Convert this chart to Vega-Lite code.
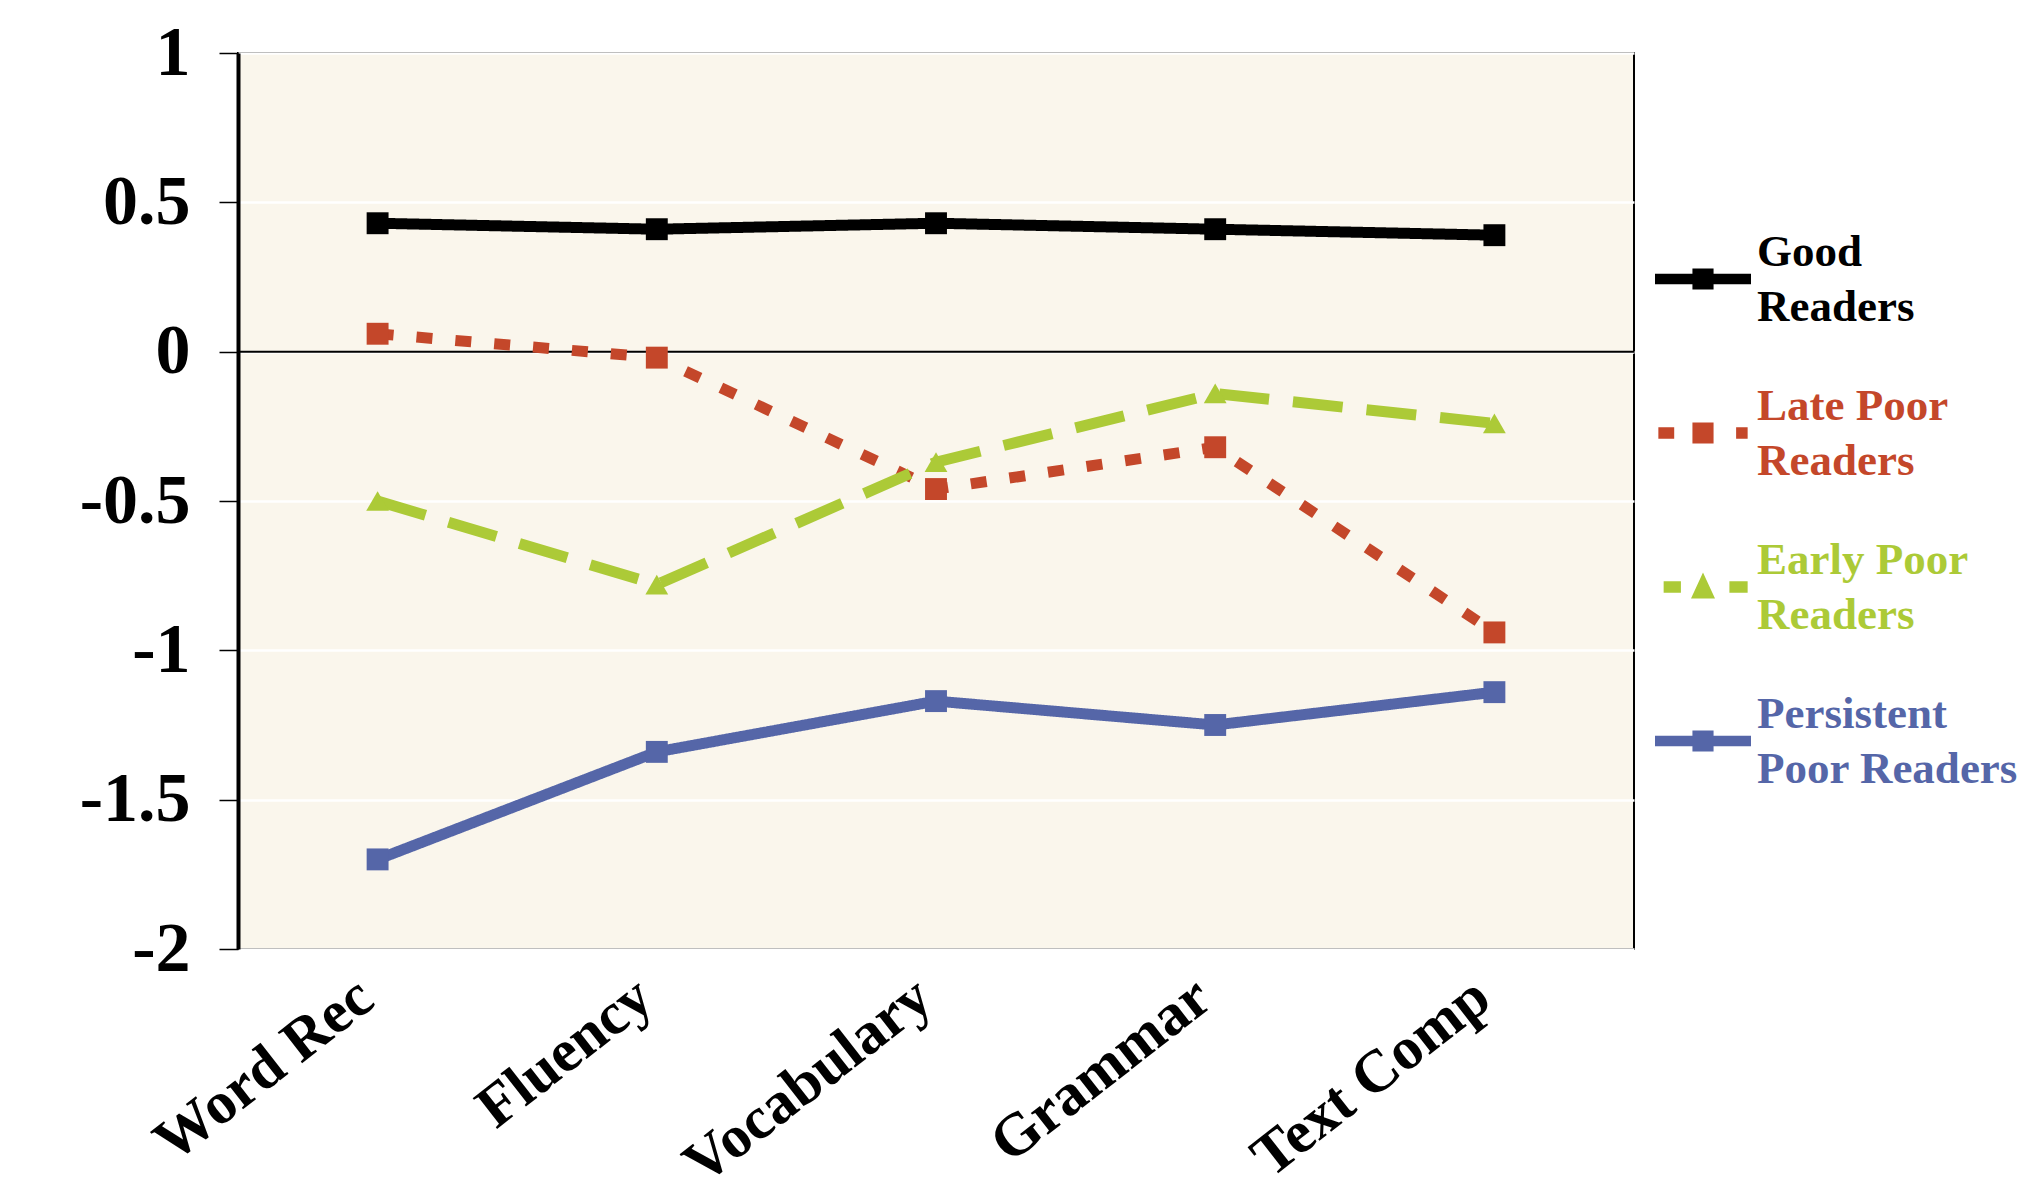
{
  "$schema": "https://vega.github.io/schema/vega-lite/v6.json",
  "autosize": {"type": "none"},
  "padding": {"left": 238, "top": 53, "right": 397, "bottom": 230},
  "width": 1396,
  "height": 896,
  "background": "white",
  "config": {
    "view": {"fill": "#FAF6EC", "stroke": "black", "strokeWidth": 2},
    "font": "Liberation Serif"
  },
  "data": {
    "values": [
      {"group": "Good Readers", "measure": "Word Rec", "value": 0.43},
      {"group": "Good Readers", "measure": "Fluency", "value": 0.41},
      {"group": "Good Readers", "measure": "Vocabulary", "value": 0.43},
      {"group": "Good Readers", "measure": "Grammar", "value": 0.41},
      {"group": "Good Readers", "measure": "Text Comp", "value": 0.39},
      {"group": "Late Poor Readers", "measure": "Word Rec", "value": 0.06},
      {"group": "Late Poor Readers", "measure": "Fluency", "value": -0.02},
      {"group": "Late Poor Readers", "measure": "Vocabulary", "value": -0.46},
      {"group": "Late Poor Readers", "measure": "Grammar", "value": -0.32},
      {"group": "Late Poor Readers", "measure": "Text Comp", "value": -0.94},
      {"group": "Early Poor Readers", "measure": "Word Rec", "value": -0.50},
      {"group": "Early Poor Readers", "measure": "Fluency", "value": -0.78},
      {"group": "Early Poor Readers", "measure": "Vocabulary", "value": -0.37},
      {"group": "Early Poor Readers", "measure": "Grammar", "value": -0.14},
      {"group": "Early Poor Readers", "measure": "Text Comp", "value": -0.24},
      {"group": "Persistent Poor Readers", "measure": "Word Rec", "value": -1.70},
      {"group": "Persistent Poor Readers", "measure": "Fluency", "value": -1.34},
      {"group": "Persistent Poor Readers", "measure": "Vocabulary", "value": -1.17},
      {"group": "Persistent Poor Readers", "measure": "Grammar", "value": -1.25},
      {"group": "Persistent Poor Readers", "measure": "Text Comp", "value": -1.14}
    ]
  },
  "layer": [
    {
      "data": {"values": [{}]},
      "mark": {"type": "rule", "color": "black", "strokeWidth": 2},
      "encoding": {"y": {"datum": 0, "type": "quantitative"}}
    },
    {
      "mark": {"type": "line", "strokeWidth": 11, "strokeCap": "butt", "strokeJoin": "miter"},
      "encoding": {
        "x": {
          "field": "measure", "type": "nominal",
          "sort": ["Word Rec", "Fluency", "Vocabulary", "Grammar", "Text Comp"],
          "scale": {"type": "point", "padding": 0.5},
          "axis": {
            "title": null, "ticks": false, "tickSize": 0, "domain": false, "grid": false,
            "labelAngle": -38, "labelAlign": "right", "labelBaseline": "top",
            "labelPadding": 18, "labelOffset": -30, "labelFont": "Liberation Serif", "labelFontWeight": "bold",
            "labelFontSize": 60, "labelColor": "black", "labelLimit": 1000
          }
        },
        "y": {
          "field": "value", "type": "quantitative",
          "scale": {"domain": [-2, 1], "nice": false, "zero": false},
          "axis": {
            "title": null, "values": [-2, -1.5, -1, -0.5, 0, 0.5, 1],
            "labelExpr": "'' + datum.value",
            "labelFont": "Liberation Serif", "labelFontWeight": "bold", "labelFontSize": 70,
            "labelColor": "black", "labelPadding": 29,
            "tickSize": 19, "tickColor": "black", "tickWidth": 1.5,
            "domainColor": "black", "domainWidth": 4,
            "grid": true, "gridColor": "white", "gridWidth": 2.5
          }
        },
        "color": {
          "field": "group", "type": "nominal",
          "scale": {
            "domain": ["Good Readers", "Late Poor Readers", "Early Poor Readers", "Persistent Poor Readers"],
            "range": ["#000000", "#C4472A", "#ACCA37", "#5566A8"]
          },
          "legend": {
            "orient": "none", "legendX": 1417, "legendY": 178, "title": null, "padding": 0,
            "symbolSize": 9216, "labelFont": "Liberation Serif", "labelFontWeight": "bold",
            "labelFontSize": 45, "labelOffset": 6, "labelLimit": 600, "rowPadding": 54,
            "labelExpr": "datum.label == 'Good Readers' ? ['Good', 'Readers'] : datum.label == 'Late Poor Readers' ? ['Late Poor', 'Readers'] : datum.label == 'Early Poor Readers' ? ['Early Poor', 'Readers'] : ['Persistent', 'Poor Readers']",
            "encode": {
              "symbols": {
                "update": {
                  "shape": {"signal": "datum.value == 'Early Poor Readers' ? 'M-0.82,-0.12H-0.46V0.12H-0.82ZM0,-0.3L0.25,0.24H-0.25ZM0.55,-0.12H0.93V0.12H0.55Z' : datum.value == 'Late Poor Readers' ? 'M-0.93,-0.12H-0.6V0.12H-0.93ZM-0.22,-0.22H0.22V0.22H-0.22ZM0.69,-0.12H0.93V0.12H0.69Z' : 'M-1,-0.11H1V0.11H-1ZM-0.22,-0.22H0.22V0.22H-0.22Z'"},
                  "fill": {"signal": "scale('color', datum.value)"},
                  "stroke": {"value": "transparent"},
                  "strokeWidth": {"value": 0},
                  "strokeDash": {"value": []},
                  "opacity": {"value": 1}
                }
              },
              "labels": {
                "update": {
                  "fill": {"signal": "scale('color', datum.value)"},
                  "lineHeight": {"value": 55},
                  "dy": {"value": -27}
                }
              }
            }
          }
        },
        "strokeDash": {
          "field": "group", "type": "nominal",
          "scale": {
            "domain": ["Good Readers", "Late Poor Readers", "Early Poor Readers", "Persistent Poor Readers"],
            "range": [[1, 0], [16, 23], [50, 24], [1, 0]]
          },
          "legend": null
        }
      }
    },
    {
      "transform": [{"filter": "datum.group != 'Early Poor Readers'"}],
      "mark": {"type": "point", "filled": true, "opacity": 1, "size": 480, "shape": "square", "strokeWidth": 0},
      "encoding": {
        "x": {"field": "measure", "type": "nominal", "sort": ["Word Rec", "Fluency", "Vocabulary", "Grammar", "Text Comp"]},
        "y": {"field": "value", "type": "quantitative"},
        "fill": {
          "field": "group", "type": "nominal",
          "scale": {
            "domain": ["Good Readers", "Late Poor Readers", "Early Poor Readers", "Persistent Poor Readers"],
            "range": ["#000000", "#C4472A", "#ACCA37", "#5566A8"]
          },
          "legend": null
        }
      }
    },
    {
      "transform": [{"filter": "datum.group == 'Early Poor Readers'"}],
      "mark": {"type": "point", "filled": true, "opacity": 1, "size": 520, "shape": "triangle-up", "strokeWidth": 0},
      "encoding": {
        "x": {"field": "measure", "type": "nominal", "sort": ["Word Rec", "Fluency", "Vocabulary", "Grammar", "Text Comp"]},
        "y": {"field": "value", "type": "quantitative"},
        "fill": {"field": "group", "type": "nominal", "legend": null}
      }
    }
  ]
}
